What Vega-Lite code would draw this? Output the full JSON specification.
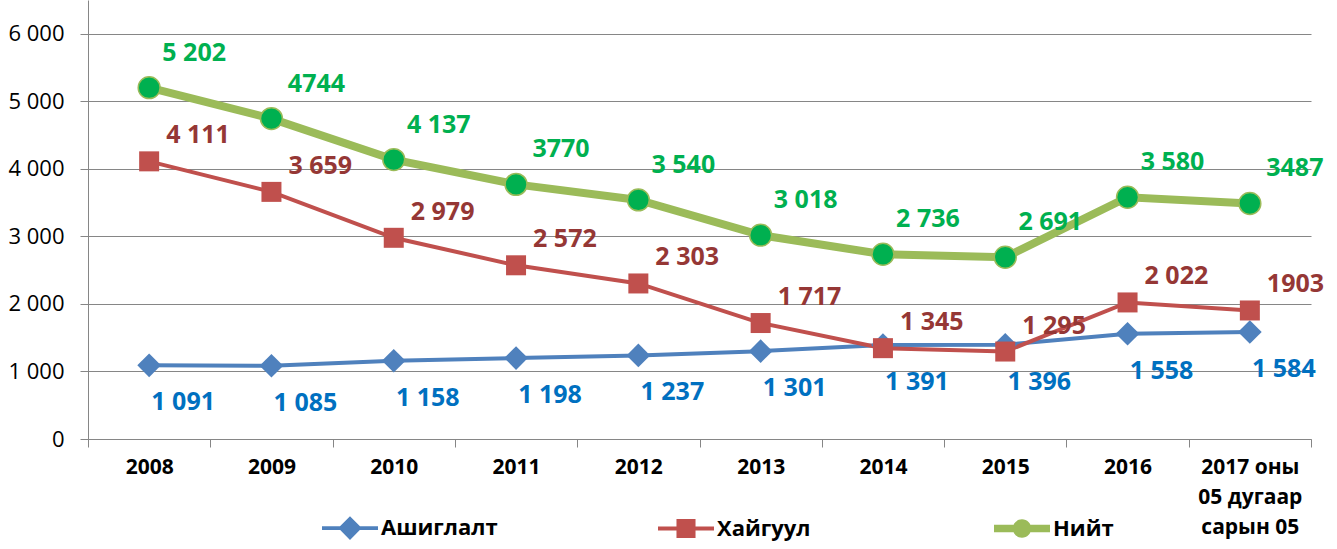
{
  "$schema": "https://vega.github.io/schema/vega-lite/v6.json",
  "width": 1223,
  "height": 439,
  "autosize": {"type": "none"},
  "padding": {"left": 88, "right": 26, "top": 0, "bottom": 110},
  "background": "white",
  "config": {"view": {"stroke": null}, "font": "Open Sans"},
  "data": {
    "values": [
      {"year": "2008", "series": "Ашиглалт", "value": 1091, "label": "1 091"},
      {"year": "2009", "series": "Ашиглалт", "value": 1085, "label": "1 085"},
      {"year": "2010", "series": "Ашиглалт", "value": 1158, "label": "1 158"},
      {"year": "2011", "series": "Ашиглалт", "value": 1198, "label": "1 198"},
      {"year": "2012", "series": "Ашиглалт", "value": 1237, "label": "1 237"},
      {"year": "2013", "series": "Ашиглалт", "value": 1301, "label": "1 301"},
      {"year": "2014", "series": "Ашиглалт", "value": 1391, "label": "1 391"},
      {"year": "2015", "series": "Ашиглалт", "value": 1396, "label": "1 396"},
      {"year": "2016", "series": "Ашиглалт", "value": 1558, "label": "1 558"},
      {"year": "2017 оны|05 дугаар|сарын 05", "series": "Ашиглалт", "value": 1584, "label": "1 584"},
      {"year": "2008", "series": "Хайгуул", "value": 4111, "label": "4 111"},
      {"year": "2009", "series": "Хайгуул", "value": 3659, "label": "3 659"},
      {"year": "2010", "series": "Хайгуул", "value": 2979, "label": "2 979"},
      {"year": "2011", "series": "Хайгуул", "value": 2572, "label": "2 572"},
      {"year": "2012", "series": "Хайгуул", "value": 2303, "label": "2 303"},
      {"year": "2013", "series": "Хайгуул", "value": 1717, "label": "1 717"},
      {"year": "2014", "series": "Хайгуул", "value": 1345, "label": "1 345"},
      {"year": "2015", "series": "Хайгуул", "value": 1295, "label": "1 295"},
      {"year": "2016", "series": "Хайгуул", "value": 2022, "label": "2 022"},
      {"year": "2017 оны|05 дугаар|сарын 05", "series": "Хайгуул", "value": 1903, "label": "1903"},
      {"year": "2008", "series": "Нийт", "value": 5202, "label": "5 202"},
      {"year": "2009", "series": "Нийт", "value": 4744, "label": "4744"},
      {"year": "2010", "series": "Нийт", "value": 4137, "label": "4 137"},
      {"year": "2011", "series": "Нийт", "value": 3770, "label": "3770"},
      {"year": "2012", "series": "Нийт", "value": 3540, "label": "3 540"},
      {"year": "2013", "series": "Нийт", "value": 3018, "label": "3 018"},
      {"year": "2014", "series": "Нийт", "value": 2736, "label": "2 736"},
      {"year": "2015", "series": "Нийт", "value": 2691, "label": "2 691"},
      {"year": "2016", "series": "Нийт", "value": 3580, "label": "3 580"},
      {"year": "2017 оны|05 дугаар|сарын 05", "series": "Нийт", "value": 3487, "label": "3487"}
    ]
  },
  "encoding": {
    "x": {
      "field": "year",
      "type": "nominal",
      "sort": null,
      "bandPosition": 0.5,
      "scale": {"type": "band", "paddingInner": 0, "paddingOuter": 0},
      "axis": {
        "title": null,
        "labelAngle": 0,
        "tickBand": "extent",
        "tickSize": 8,
        "domainColor": "#868686",
        "tickColor": "#868686",
        "labelFont": "Open Sans",
        "labelFontWeight": "bold",
        "labelFontSize": 21,
        "labelColor": "black",
        "labelPadding": 9,
        "labelExpr": "split(datum.label, '|')",
        "labelLineHeight": 30,
        "labelBaseline": "top",
        "grid": false
      }
    },
    "y": {
      "field": "value",
      "type": "quantitative",
      "scale": {"domain": [0, 6500], "nice": false},
      "axis": {
        "title": null,
        "values": [0, 1000, 2000, 3000, 4000, 5000, 6000],
        "labelExpr": "replace(format(datum.value, ','), ',', ' ')",
        "grid": true,
        "gridColor": "#868686",
        "domainColor": "#868686",
        "tickColor": "#868686",
        "tickSize": 8,
        "labelPadding": 16,
        "labelFontSize": 22,
        "labelColor": "black"
      }
    }
  },
  "layer": [
    {
      "transform": [{"filter": "datum.series !== 'Нийт'"}],
      "mark": {"type": "line", "strokeWidth": 4},
      "encoding": {
        "color": {
          "field": "series",
          "type": "nominal",
          "scale": {"domain": ["Ашиглалт", "Хайгуул", "Нийт"], "range": ["#4F81BD", "#C0504D", "#9BBB59"]},
          "legend": {
            "title": null,
            "orient": "none",
            "legendX": 234,
            "legendY": 500,
            "direction": "horizontal",
            "columns": 3,
            "gridAlign": "all",
            "columnPadding": 160,
            "symbolSize": 3136,
            "labelFont": "Open Sans",
            "labelFontWeight": "bold",
            "labelFontSize": 22,
            "labelColor": "black",
            "labelOffset": 3,
            "encode": {
              "symbols": {
                "update": {
                  "shape": {"signal": "datum.value === 'Ашиглалт' ? 'M-1,-0.07H1V0.07H-1Z M0,-0.42L0.42,0L0,0.42L-0.42,0Z' : datum.value === 'Хайгуул' ? 'M-1,-0.07H1V0.07H-1Z M-0.34,-0.34H0.34V0.34H-0.34Z' : 'M-1,-0.13H1V0.13H-1Z M-0.33,0A0.33,0.33 0 1,1 0.33,0A0.33,0.33 0 1,1 -0.33,0Z'"},
                  "fill": {"signal": "datum.value === 'Ашиглалт' ? '#4F81BD' : datum.value === 'Хайгуул' ? '#C0504D' : '#9BBB59'"},
                  "stroke": {"value": "transparent"},
                  "strokeWidth": {"value": 0},
                  "opacity": {"value": 1}
                }
              }
            }
          }
        }
      }
    },
    {
      "transform": [{"filter": "datum.series === 'Нийт'"}],
      "mark": {"type": "line", "strokeWidth": 8, "color": "#9BBB59"},
      "encoding": {}
    },
    {
      "transform": [{"filter": "datum.series === 'Ашиглалт'"}],
      "mark": {"type": "point", "shape": "diamond", "filled": true, "opacity": 1, "color": "#4F81BD", "size": 560}
    },
    {
      "transform": [{"filter": "datum.series === 'Хайгуул'"}],
      "mark": {"type": "point", "shape": "square", "filled": true, "opacity": 1, "color": "#C0504D", "size": 400}
    },
    {
      "transform": [{"filter": "datum.series === 'Нийт'"}],
      "mark": {"type": "point", "shape": "circle", "filled": true, "opacity": 1, "fill": "#00B050", "stroke": "#9BBB59", "strokeWidth": 1.5, "size": 480}
    },
    {
      "transform": [{"filter": "datum.series === 'Ашиглалт'"}],
      "mark": {"type": "text", "font": "Open Sans", "fontWeight": "bold", "fontSize": 25, "color": "#0070C0", "dx": 34, "dy": 37, "align": "center", "baseline": "middle"},
      "encoding": {"text": {"field": "label"}}
    },
    {
      "transform": [{"filter": "datum.series === 'Хайгуул'"}],
      "mark": {"type": "text", "font": "Open Sans", "fontWeight": "bold", "fontSize": 25, "color": "#953735", "dx": 17, "dy": -26, "align": "left", "baseline": "middle"},
      "encoding": {"text": {"field": "label"}}
    },
    {
      "transform": [{"filter": "datum.series === 'Нийт'"}],
      "mark": {"type": "text", "font": "Open Sans", "fontWeight": "bold", "fontSize": 25, "color": "#00B050", "dx": 45, "dy": -35, "align": "center", "baseline": "middle"},
      "encoding": {"text": {"field": "label"}}
    }
  ]
}
